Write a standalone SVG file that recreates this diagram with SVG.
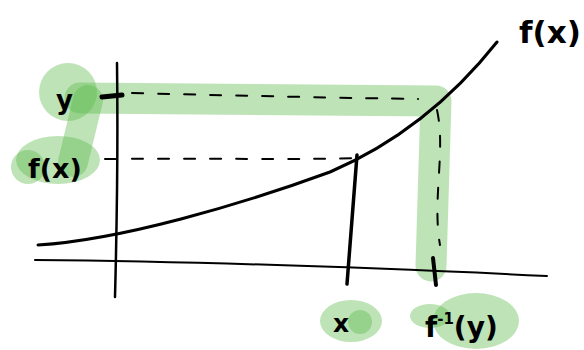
<svg xmlns="http://www.w3.org/2000/svg" width="584" height="350" viewBox="0 0 584 350">
<style>
.hl{fill:#5cb84c;fill-opacity:0.4;stroke:none}
.band{fill:none;stroke:#5cb84c;stroke-opacity:0.4;stroke-linecap:round;stroke-linejoin:round}
.ink{fill:none;stroke:#000;stroke-linecap:round;stroke-linejoin:round}
.dash{fill:none;stroke:#000;stroke-width:2;stroke-dasharray:11 15;stroke-linecap:round}
.lbl{font-family:"DejaVu Sans",sans-serif;font-weight:bold;fill:#000}
</style>
<rect width="584" height="350" fill="#fff"/>
<g id="highlights">
  <path class="band" stroke-width="31" d="M80,98 L436,101 L431,266"/>
  <path class="band" stroke-width="30" d="M88,100 L73,162"/>
  <circle class="hl" cx="68" cy="92" r="29"/>
  <ellipse class="hl" cx="58" cy="160" rx="42" ry="24"/>
  <circle class="hl" cx="28" cy="167" r="17"/>
  <ellipse class="hl" cx="351" cy="321" rx="31" ry="21"/>
  <circle class="hl" cx="360" cy="322" r="12"/>
  <ellipse class="hl" cx="476" cy="321" rx="43" ry="28"/>
  <ellipse class="hl" cx="430" cy="316" rx="20" ry="12"/>
</g>
<g id="connectors">
  <path class="ink" stroke-width="2.5" d="M117,63 C118,140 117,220 115,297"/>
  <path class="ink" stroke-width="2" d="M35,260 C150,261 300,264 547,276"/>
  <path class="ink" stroke-width="3" d="M38,245 C120,240 240,205 330,172 C400,142 455,95 497,42"/>
  <path class="ink" stroke-width="3.5" d="M357,155 L347,284"/>
  <path class="ink" stroke-width="5" d="M102,97 L122,95"/>
  <path class="dash" d="M132,93 C250,96 350,98 418,99"/>
  <path class="dash" d="M437,110 C446,150 432,200 440,245"/>
  <path class="ink" stroke-width="4" d="M433,258 L436,285"/>
  <path class="dash" d="M106,159 C200,158 300,160 360,158"/>
  <path class="ink" stroke-width="2" d="M105,159 L113,159"/>
</g>
<g id="label-y"><text class="lbl" x="56" y="109" font-size="26">y</text></g>
<g id="label-fx-left"><text class="lbl" x="28" y="178" font-size="27">f(x)</text></g>
<g id="label-fx-top"><text class="lbl" x="519" y="43" font-size="31">f(x)</text></g>
<g id="label-x"><text class="lbl" x="333" y="332" font-size="25">x</text></g>
<g id="label-finv"><text class="lbl" x="425" y="337" font-size="28">f<tspan font-size="15" dy="-13">-1</tspan><tspan dy="13">(y)</tspan></text></g>
</svg>
